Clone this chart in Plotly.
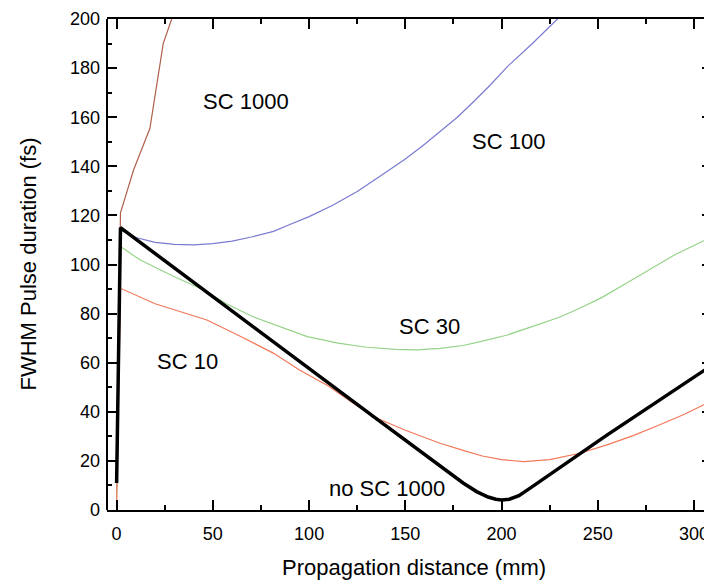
import plotly.graph_objects as go

# Data (propagation distance in mm, FWHM in fs)
x_sc1000 = [0, 2, 8.8, 17.3, 24.2, 28.6, 31]
y_sc1000 = [10, 121, 138.5, 155.5, 190, 200, 210]

x_sc100 = [0, 2, 10, 20, 30, 40, 50, 60, 70, 81.5, 90, 100, 112, 125, 137, 150,
           160, 168, 177, 185, 194, 203, 216, 229, 240]
y_sc100 = [8, 114, 111, 109, 108.2, 108, 108.5, 109.5, 111.2, 113.5, 116.3, 119.5,
           124, 129.7, 136, 143, 149, 154, 160, 166, 173, 180.6, 190, 200, 209]

x_sc30 = [0, 2, 12.3, 30, 45.2, 57, 70, 85, 99, 115, 130, 145, 156, 168, 180, 190,
          203, 215, 230, 240, 252, 265, 277, 290, 309.3]
y_sc30 = [5, 107.3, 101.8, 95, 89.6, 84, 79, 74.5, 70.6, 68, 66.3, 65.4, 65.2, 65.8,
          67, 68.8, 71.3, 74.5, 78.5, 82, 86.5, 92.5, 98, 104, 111.3]

x_sc10 = [0, 2, 20, 46.9, 65, 81.6, 95, 110, 122, 133.5, 150, 168, 180, 190, 200,
          211.4, 225, 240.7, 254.7, 268, 280, 295, 309.3]
y_sc10 = [2, 90.3, 84, 77.4, 70.5, 63.8, 57, 50.5, 44, 38, 32.5, 27.2, 24.3, 22,
          20.5, 19.7, 20.5, 23.1, 26.5, 30.2, 34, 39, 44.5]

x_nosc = [0, 2, 133.5, 180, 187, 193, 197, 200, 204, 209, 215, 254.7, 309.3]
y_nosc = [11, 115, 38, 11, 7.5, 5.3, 4.4, 4.1, 4.4, 5.8, 9, 30.5, 59]

labels = ["SC 1000", "SC 100", "SC 30", "SC 10", "no SC 1000"]
label_x = [67, 203.6, 162.5, 36.6, 140.4]
label_y = [166.3, 150, 74.7, 60.4, 8.8]

FONT = "Liberation Sans, Arial, sans-serif"

fig = go.Figure()
fig.add_trace(go.Scatter(x=x_sc1000, y=y_sc1000, mode="lines",
                         line=dict(color="#b0604a", width=1.2)))
fig.add_trace(go.Scatter(x=x_sc100, y=y_sc100, mode="lines",
                         line=dict(color="#7a7ad2", width=1.2)))
fig.add_trace(go.Scatter(x=x_sc30, y=y_sc30, mode="lines",
                         line=dict(color="#95d388", width=1.2)))
fig.add_trace(go.Scatter(x=x_sc10, y=y_sc10, mode="lines",
                         line=dict(color="#f2785a", width=1.2)))
fig.add_trace(go.Scatter(x=x_nosc, y=y_nosc, mode="lines",
                         line=dict(color="black", width=3.5)))

for t, lx, ly in zip(labels, label_x, label_y):
    fig.add_annotation(x=lx, y=ly, text=t, showarrow=False,
                       font=dict(family=FONT, size=22, color="black"),
                       xanchor="center", yanchor="middle")

# Axis titles
fig.add_annotation(x=0.5, y=0, xref="paper", yref="paper", yshift=-57,
                   xshift=4,
                   text="Propagation distance (mm)", showarrow=False,
                   font=dict(family=FONT, size=22, color="black"),
                   xanchor="center", yanchor="middle")
fig.add_annotation(x=0, y=0.5, xref="paper", yref="paper", xshift=-79,
                   text="FWHM Pulse duration (fs)", showarrow=False, textangle=-90,
                   font=dict(family=FONT, size=22, color="black"),
                   xanchor="center", yanchor="middle")

# left axis line (the right frame edge lies outside the cropped picture)
fig.add_shape(type="line", xref="paper", yref="paper", x0=0, x1=0, y0=0, y1=1,
              line=dict(color="black", width=2))

tick_common = dict(ticks="inside", ticklen=10, tickwidth=2, tickcolor="black",
                   showgrid=False, zeroline=False, mirror="allticks",
                   tickfont=dict(family=FONT, size=18, color="black"))

fig.update_xaxes(range=[-5, 309.3], tick0=0, dtick=50,
                 showline=True, linecolor="black", linewidth=2,
                 minor=dict(dtick=25, ticks="inside", ticklen=5, tickwidth=2,
                            tickcolor="black", showgrid=False),
                 ticklabelstandoff=6, **tick_common)
fig.update_yaxes(range=[0, 200], tick0=0, dtick=20, showline=False,
                 minor=dict(dtick=10, ticks="inside", ticklen=5, tickwidth=2,
                            tickcolor="black", showgrid=False),
                 ticklabelstandoff=6, **tick_common)

fig.update_layout(width=704, height=585, showlegend=False,
                  plot_bgcolor="white", paper_bgcolor="white",
                  margin=dict(l=99, r=0, t=11, b=83, autoexpand=False),
                  font=dict(family=FONT))

fig.write_html("out.html")
